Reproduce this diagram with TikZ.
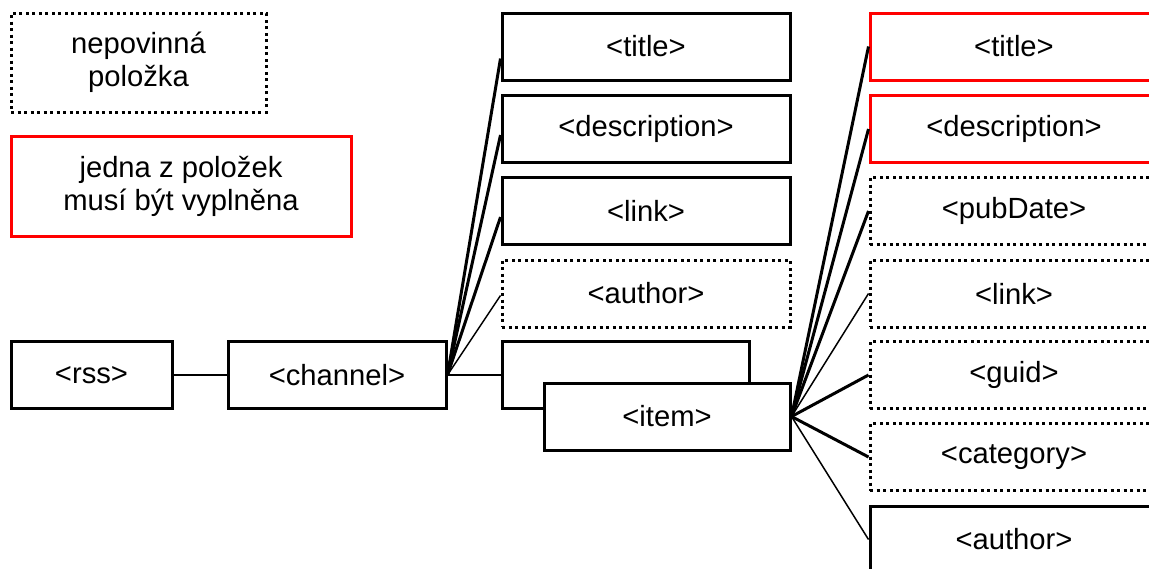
\documentclass[tikz,border=0pt]{standalone}
\usepackage{fontspec}
\setmainfont{Liberation Sans}
\begin{document}
\begin{tikzpicture}[x=0.5pt, y=-0.5pt,
    tag/.style={rectangle, draw, line width=1.5pt, inner sep=0pt, fill=white,
        minimum width=144pt, minimum height=33.5pt,
        font=\fontsize{14.6}{16.5}\selectfont, align=center},
    optional/.style={dash pattern=on 1.5pt off 1.75pt},
    choice/.style={draw=red},
    thick link/.style={line width=1.5pt},
    thin link/.style={line width=0.75pt}]

    \useasboundingbox (0,0) rectangle (1149,568);
    \clip (0,0) rectangle (1149,568);

    % legenda
    \node[tag, optional, minimum width=127.5pt, minimum height=49.5pt] at (138.5, 62.5) (leg1) {nepovinná\\položka};
    \node[tag, choice, minimum width=170pt, minimum height=50pt] at (181, 186.5) (leg2) {jedna z položek\\musí být vyplněna};

    % koren
    \node[tag, minimum width=80.5pt] at (91.5, 375) (rss) {<rss>};
    \node[tag, minimum width=109pt] at (337, 375) (channel) {<channel>};

    % prvky channel
    \node[tag] at (646, 46.5) (chtitle) {<title>};
    \node[tag] at (646, 129) (chdesc) {<description>};
    \node[tag] at (646, 211) (chlink) {<link>};
    \node[tag, optional] at (646, 293.5) (chauthor) {<author>};
    \node[tag, minimum width=123.5pt] at (625.5, 375) (itemback) {};
    \node[tag, minimum width=123pt] at (667, 416.5) (item) {<item>};

    % prvky item
    \node[tag, choice] at (1014, 46.5) (ittitle) {<title>};
    \node[tag, choice] at (1014, 129) (itdesc) {<description>};
    \node[tag, optional] at (1014, 211) (itdate) {<pubDate>};
    \node[tag, optional] at (1014, 293.5) (itlink) {<link>};
    \node[tag, optional] at (1014, 375) (itguid) {<guid>};
    \node[tag, optional] at (1014, 457) (itcat) {<category>};
    \node[tag] at (1014, 539.5) (itauthor) {<author>};

    \path[line width=1pt] (rss) edge (channel);
    \path[line width=1pt] (channel.east) edge (itemback.west);

    \path (channel.east) edge[thick link] ([yshift=-6pt]chtitle.west);
    \path (channel.east) edge[thick link] ([yshift=-3pt]chdesc.west);
    \path (channel.east) edge[thick link] ([yshift=-3pt]chlink.west);
    \path (channel.east) edge[thin link] ([yshift=-1pt]chauthor.west);

    \path (item.east) edge[thick link] (ittitle.west);
    \path (item.east) edge[thick link] (itdesc.west);
    \path (item.east) edge[thick link] (itdate.west);
    \path (item.east) edge[thin link] (itlink.west);
    \path (item.east) edge[thick link] (itguid.west);
    \path (item.east) edge[thick link] (itcat.west);
    \path (item.east) edge[thin link] (itauthor.west);

\end{tikzpicture}
\end{document}
